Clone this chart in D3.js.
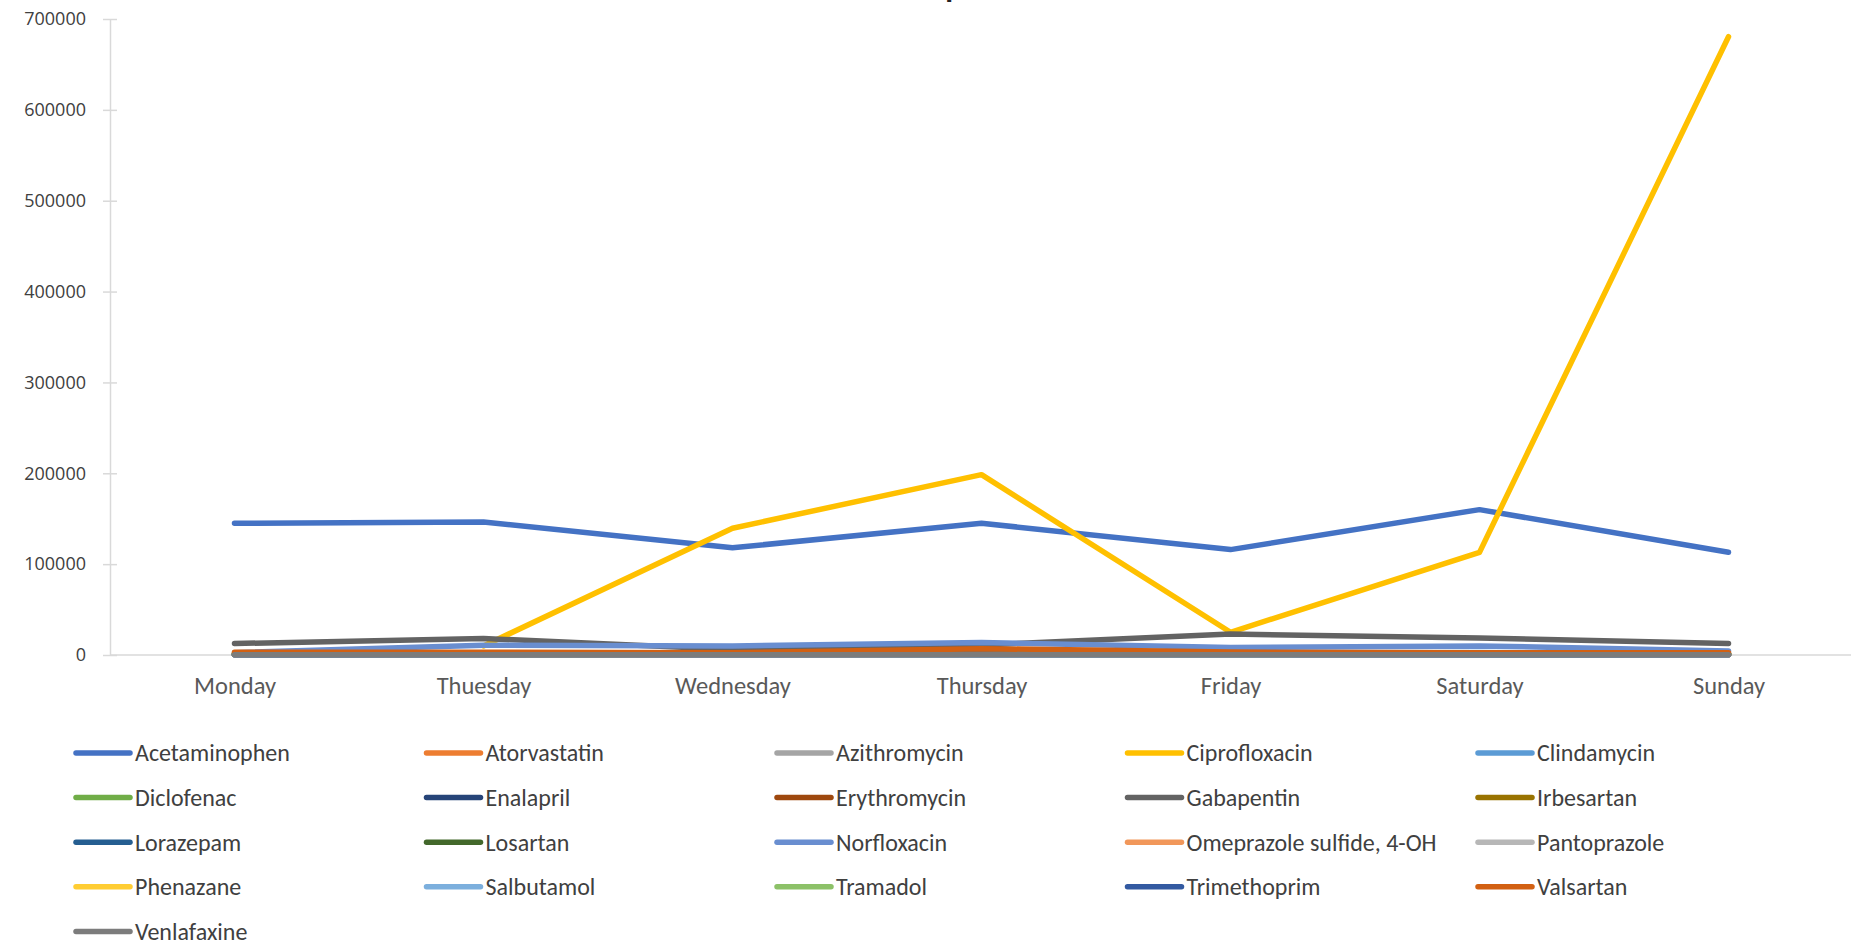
<!DOCTYPE html>
<html>
<head>
<meta charset="utf-8">
<script src="https://cdn.jsdelivr.net/npm/d3@7"></script>
<style>
  html, body { margin: 0; padding: 0; background: #ffffff; overflow: hidden; }
  svg { display: block; }
</style>
</head>
<body>
<svg id="chart" width="1851" height="942"></svg>
<script>
// Weekly readings per compound (days along x, one line per compound)
const days = ["Monday", "Thuesday", "Wednesday", "Thursday", "Friday", "Saturday", "Sunday"];
const yTicks = [0, 100000, 200000, 300000, 400000, 500000, 600000, 700000];
const chartTitle = "Hospital";

const acetaminophen = [145000, 146500, 118000, 145000, 116000, 160000, 113000];
const atorvastatin  = [1200, 1500, 900, 1800, 1100, 1300, 1000];
const azithromycin  = [800, 1100, 700, 1300, 900, 1000, 600];
const ciprofloxacin = [null, 10000, 139500, 198500, 25000, 113000, 680500];
const clindamycin   = [1500, 2500, 2000, 3500, 2200, 2800, 1600];
const diclofenac    = [600, 900, 500, 1200, 800, 700, 500];
const enalapril     = [300, 400, 250, 500, 350, 300, 200];
const erythromycin  = [900, 1300, 800, 2000, 1000, 1200, 900];
const gabapentin    = [12600, 18200, 6000, 11000, 23000, 18600, 12600];
const irbesartan    = [500, 700, 400, 900, 600, 500, 400];
const lorazepam     = [200, 300, 150, 350, 250, 200, 150];
const losartan      = [1000, 1400, 900, 1700, 1200, 1100, 800];
const norfloxacin   = [2600, 10800, 10000, 13800, 8200, 10000, 4500];
const omeprazole    = [400, 600, 350, 800, 500, 450, 300];
const pantoprazole  = [700, 1000, 600, 1200, 800, 900, 600];
const phenazane     = [1800, 2400, 1600, 3000, 2000, 2200, 1500];
const salbutamol    = [300, 500, 250, 600, 400, 350, 250];
const tramadol      = [1100, 1600, 1000, 2200, 1400, 1500, 1000];
const trimethoprim  = [600, 800, 500, 1000, 700, 650, 450];
const valsartan     = [3000, 3000, 2500, 7000, 3200, 2600, 2500];
const venlafaxine   = [300, 300, 250, 400, 300, 300, 250];

const seriesNames = ["Acetaminophen", "Atorvastatin", "Azithromycin", "Ciprofloxacin", "Clindamycin",
  "Diclofenac", "Enalapril", "Erythromycin", "Gabapentin", "Irbesartan",
  "Lorazepam", "Losartan", "Norfloxacin", "Omeprazole sulfide, 4-OH", "Pantoprazole",
  "Phenazane", "Salbutamol", "Tramadol", "Trimethoprim", "Valsartan", "Venlafaxine"];
const seriesValues = [acetaminophen, atorvastatin, azithromycin, ciprofloxacin, clindamycin,
  diclofenac, enalapril, erythromycin, gabapentin, irbesartan,
  lorazepam, losartan, norfloxacin, omeprazole, pantoprazole,
  phenazane, salbutamol, tramadol, trimethoprim, valsartan, venlafaxine];
const seriesColors = ["#4472C4", "#ED7D31", "#A5A5A5", "#FFC000", "#5B9BD5",
  "#70AD47", "#264478", "#9E480E", "#636363", "#997300",
  "#255E91", "#43682B", "#698ED0", "#F1975A", "#B7B7B7",
  "#FFCD33", "#7CAFDD", "#8CC168", "#335AA1", "#D26012", "#7C7C7C"];

const series = seriesNames.map((name, i) => ({ name, values: seriesValues[i], color: seriesColors[i] }));

const svg = d3.select("#chart");
const plot = { left: 110, right: 1853, top: 19, bottom: 655 };

const x = d3.scalePoint().domain(days).range([plot.left, plot.right]).padding(0.5);
const y = d3.scaleLinear().domain([0, 700000]).range([plot.bottom, plot.top]);

// Title (sits mostly above the visible frame)
svg.append("text")
  .attr("x", 950).attr("y", -3)
  .attr("text-anchor", "middle")
  .attr("font-family", "Carlito, Calibri, Lato, sans-serif")
  .attr("font-size", 32).attr("font-weight", "bold")
  .attr("fill", "#222")
  .text(chartTitle);

// Value axis
const yAxis = d3.axisLeft(y).tickValues(yTicks).tickSize(0).tickPadding(24).tickFormat(d3.format("d"));
const gy = svg.append("g").attr("transform", `translate(${plot.left},0)`).call(yAxis);
gy.select(".domain").attr("stroke", "#d9d9d9").attr("stroke-width", 1.5);
gy.selectAll(".tick text")
  .attr("font-family", "'Open Sans', sans-serif").attr("font-size", 18).attr("fill", "#404040");
gy.selectAll(".tick").append("line")
  .attr("x1", -7).attr("x2", 7).attr("stroke", "#d9d9d9").attr("stroke-width", 1.5);

// Category axis along the zero line
const xAxis = d3.axisBottom(x).tickSize(0).tickPadding(22);
const gx = svg.append("g").attr("transform", `translate(0,${y(0)})`).call(xAxis);
gx.select(".domain").remove();
gx.append("line").attr("x1", plot.left).attr("x2", 1851).attr("stroke", "#d9d9d9").attr("stroke-width", 1.5);
gx.selectAll(".tick text")
  .attr("font-family", "Carlito, Calibri, Lato, sans-serif").attr("font-size", 24.5).attr("fill", "#595959");

// Lines
const line = d3.line()
  .defined(d => d != null)
  .x((d, i) => x(days[i]))
  .y(d => y(d));

svg.append("g").selectAll("path")
  .data(series)
  .join("path")
  .attr("d", d => line(d.values))
  .attr("fill", "none")
  .attr("stroke", d => d.color)
  .attr("stroke-width", 5.5)
  .attr("stroke-linecap", "round")
  .attr("stroke-linejoin", "round");

// Legend: 5 columns
const legend = svg.append("g");
const cols = 5, colW = 350.5, rowH = 44.6, lx0 = 76, ly0 = 753;
const item = legend.selectAll("g").data(series).join("g")
  .attr("transform", (d, i) => `translate(${lx0 + (i % cols) * colW},${ly0 + Math.floor(i / cols) * rowH})`);
item.append("line")
  .attr("x1", 0).attr("x2", 54)
  .attr("stroke", d => d.color).attr("stroke-width", 5.5).attr("stroke-linecap", "round");
item.append("text")
  .attr("x", 59).attr("dy", "0.35em")
  .attr("font-family", "Carlito, Calibri, Lato, sans-serif").attr("font-size", 24)
  .attr("fill", "#404040")
  .text(d => d.name);
</script>
</body>
</html>
